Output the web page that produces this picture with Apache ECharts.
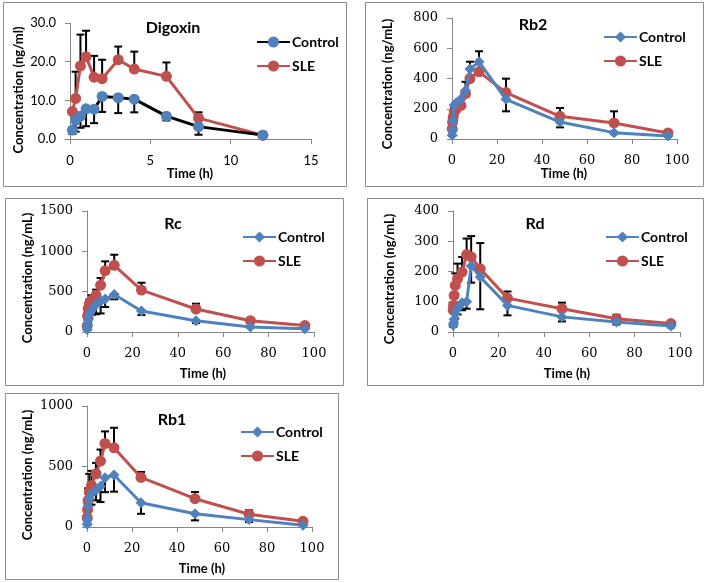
<!DOCTYPE html>
<html><head><meta charset="utf-8">
<script src="https://cdn.jsdelivr.net/npm/echarts@6/dist/echarts.min.js"></script>
<style>html,body{margin:0;padding:0;background:#fff;}#c{width:709px;height:583px;}</style>
</head><body><div id="c"></div>
<script>
// ---------- DATA ----------
const digTimes = [0.15, 0.35, 0.65, 1, 1.5, 2, 3, 4, 6, 8, 12];
const digControl = [2.3, 4.9, 5.9, 7.8, 7.7, 11.0, 10.7, 10.3, 5.9, 3.2, 1.0];
const digControlSD = [1.0, 3.0, 3.0, 4.5, 3.6, 4.0, 4.0, 3.4, 1.1, 2.1, 0];
const digSLE = [7.1, 10.5, 18.9, 21.3, 16.0, 15.6, 20.5, 18.1, 16.2, 5.4, 1.0];
const digSLESD = [0, 6.9, 8.1, 6.7, 5.5, 4.9, 3.4, 4.5, 3.6, 1.5, 0];

const gTimes = [0.083, 0.25, 0.5, 1, 2, 4, 6, 8, 12, 24, 48, 72, 96];

const rb2Control = [25, 60, 120, 225, 240, 265, 320, 462, 510, 262, 112, 42, 20];
const rb2ControlSD = [5, 10, 15, 20, 25, 30, 40, 50, 60, 79, 35, 10, 5];
const rb2SLE = [67, 111, 144, 178, 200, 222, 300, 400, 444, 307, 150, 106, 40];
const rb2SLESD = [10, 15, 20, 25, 30, 35, 78, 111, 136, 92, 55, 77, 10];

const rcControl = [30, 90, 150, 210, 270, 340, 380, 410, 465, 260, 140, 62, 40];
const rcControlSD = [5, 20, 30, 40, 60, 120, 150, 100, 60, 50, 30, 10, 5];
const rcSLE = [80, 200, 290, 350, 395, 455, 580, 760, 826, 520, 285, 140, 80];
const rcSLESD = [20, 30, 40, 50, 60, 70, 89, 116, 132, 91, 66, 20, 10];

const rdControl = [22, 30, 42, 60, 78, 97, 100, 218, 182, 88, 50, 33, 20];
const rdControlSD = [5, 8, 10, 15, 20, 25, 23, 55, 107, 33, 15, 8, 5];
const rdSLE = [72, 88, 121, 154, 176, 198, 256, 248, 209, 112, 77, 44, 28];
const rdSLESD = [5, 10, 30, 40, 50, 50, 53, 69, 85, 22, 20, 13, 8];

const rb1Control = [22, 69, 171, 234, 275, 303, 336, 408, 430, 200, 110, 61, 14];
const rb1ControlSD = [5, 15, 30, 60, 90, 83, 130, 120, 138, 91, 55, 20, 5];
const rb1SLE = [77, 143, 220, 289, 344, 440, 545, 690, 655, 410, 234, 105, 47];
const rb1SLESD = [20, 50, 100, 150, 120, 90, 95, 100, 165, 45, 55, 33, 10];

const panelTitles = ['Digoxin', 'Rb2', 'Rc', 'Rd', 'Rb1'];
const yTitles = ['Concentration (ng/ml)', 'Concentration (ng/mL)', 'Concentration (ng/mL)', 'Concentration (ng/mL)', 'Concentration (ng/mL)'];
const xTitle = 'Time (h)';
const legendNames = ['Control', 'SLE'];

// ---------- LAYOUT ----------
const BLUE = '#4F81BD', RED = '#C0504D', AXIS = '#868686';
const panels = [
  {box:[3,2,343,184], grid:{left:70, top:23, width:241, height:116}, x:[0,15,5], y:[0,30,10], dec:1,
   t:digTimes, c:digControl, cs:digControlSD, s:digSLE, ss:digSLESD, cLine:'#000', cSym:'circle', cSize:11, sSize:11,
   title:[173,28], leg:[251,30], ytitle:[19,90], xt:[190,174], sansTicks:true},
  {box:[365,2,338,184], grid:{left:452, top:18, width:225, height:121}, x:[0,100,20], y:[0,800,200], dec:0,
   t:gTimes, c:rb2Control, cs:rb2ControlSD, s:rb2SLE, ss:rb2SLESD, cLine:BLUE, cSym:'diamond', cSize:11, sSize:11,
   title:[533,25], leg:[598,25], ytitle:[388,84], xt:[564,174]},
  {box:[5,198,338,187], grid:{left:87, top:211, width:227, height:121}, x:[0,100,20], y:[0,1500,500], dec:0,
   t:gTimes, c:rcControl, cs:rcControlSD, s:rcSLE, ss:rcSLESD, cLine:BLUE, cSym:'diamond', cSize:11, sSize:11,
   title:[173,224], leg:[237,225], ytitle:[28,278], xt:[203,374]},
  {box:[367,198,336,187], grid:{left:453, top:211, width:227, height:121}, x:[0,100,20], y:[0,400,100], dec:0,
   t:gTimes, c:rdControl, cs:rdControlSD, s:rdSLE, ss:rdSLESD, cLine:BLUE, cSym:'diamond', cSize:11, sSize:11,
   title:[535,224], leg:[600,225], ytitle:[390,279], xt:[567,374]},
  {box:[5,393,333,186], grid:{left:87, top:406, width:225, height:121}, x:[0,100,20], y:[0,1000,500], dec:0,
   t:gTimes, c:rb1Control, cs:rb1ControlSD, s:rb1SLE, ss:rb1SLESD, cLine:BLUE, cSym:'diamond', cSize:11, sSize:11,
   title:[172,420], leg:[235,420], ytitle:[28,475], xt:[202,569]}
];

const grids = [], xAxes = [], yAxes = [], series = [], legends = [], graphics = [];

function errRender(dir) {
  return function (params, api) {
    const x = api.value(0), y = api.value(1), e = api.value(2);
    if (!(e > 0)) return null;
    const p0 = api.coord([x, y]);
    const p1 = api.coord([x, y + dir * e]);
    const st = {stroke: '#000', lineWidth: 2};
    return {type: 'group', children: [
      {type: 'line', shape: {x1: p0[0], y1: p0[1], x2: p1[0], y2: p1[1]}, style: st},
      {type: 'line', shape: {x1: p1[0] - 4, y1: p1[1], x2: p1[0] + 4, y2: p1[1]}, style: st}
    ]};
  };
}

panels.forEach((p, i) => {
  grids.push(p.grid);
  const tickFont = p.sansTicks ? {fontFamily: 'Lato', fontSize: 13} : {fontFamily: 'DejaVu Serif', fontSize: 13};
  xAxes.push({type: 'value', gridIndex: i, min: p.x[0], max: p.x[1], interval: p.x[2],
    axisLine: {show: true, lineStyle: {color: AXIS, width: 1}}, axisTick: {show: true, length: 5, lineStyle: {color: AXIS}},
    splitLine: {show: false}, axisLabel: Object.assign({color: '#000', margin: 15}, tickFont)});
  yAxes.push({type: 'value', gridIndex: i, min: p.y[0], max: p.y[1], interval: p.y[2],
    axisLine: {show: true, lineStyle: {color: AXIS, width: 1}}, axisTick: {show: true, length: 5, lineStyle: {color: AXIS}},
    splitLine: {show: false},
    axisLabel: Object.assign({color: '#000', margin: 14, formatter: v => v.toFixed(p.dec)}, tickFont)});
  const cName = legendNames[0] + '|' + i, sName = legendNames[1] + '|' + i;
  const cData = p.t.map((t, k) => [t, p.c[k], p.cs[k]]);
  const sData = p.t.map((t, k) => [t, p.s[k], p.ss[k]]);
  series.push({type: 'custom', xAxisIndex: i, yAxisIndex: i, renderItem: errRender(-1), data: cData, z: 1, silent: true});
  series.push({type: 'custom', xAxisIndex: i, yAxisIndex: i, renderItem: errRender(1), data: sData, z: 1, silent: true});
  series.push({name: cName, type: 'line', xAxisIndex: i, yAxisIndex: i, data: cData.map(d => [d[0], d[1]]),
    symbol: p.cSym, symbolSize: p.cSize, showAllSymbol: true,
    lineStyle: {color: p.cLine, width: 3}, itemStyle: {color: BLUE, borderWidth: 0}, z: 3, animation: false});
  series.push({name: sName, type: 'line', xAxisIndex: i, yAxisIndex: i, data: sData.map(d => [d[0], d[1]]),
    symbol: 'circle', symbolSize: p.sSize, showAllSymbol: true,
    lineStyle: {color: RED, width: 3}, itemStyle: {color: RED, borderWidth: 0}, z: 2, animation: false});
  legends.push({data: [cName, sName], left: p.leg[0], top: p.leg[1], orient: 'vertical', itemWidth: 33, itemHeight: 14,
    itemGap: 10, formatter: n => n.split('|')[0], selectedMode: false,
    textStyle: {fontFamily: 'Lato', fontWeight: 'bold', fontSize: 14, color: '#000', padding: [0, 0, 0, -3]}});
  graphics.push({type: 'rect', shape: {x: p.box[0] + 0.5, y: p.box[1] + 0.5, width: p.box[2], height: p.box[3]},
    style: {fill: 'none', stroke: '#8c8c8c', lineWidth: 1}, z: -1});
  graphics.push({type: 'text', x: p.title[0], y: p.title[1], style: {text: panelTitles[i], fontFamily: 'Lato', fontWeight: 'bold',
    fontSize: 16, fill: '#000', align: 'center', verticalAlign: 'middle'}});
  graphics.push({type: 'text', x: p.ytitle[0], y: p.ytitle[1], rotation: Math.PI / 2, style: {text: yTitles[i], fontFamily: 'Lato',
    fontWeight: 'bold', fontSize: 13, fill: '#000', align: 'center', verticalAlign: 'middle'}});
  graphics.push({type: 'text', x: p.xt[0], y: p.xt[1], style: {text: xTitle, fontFamily: 'Lato', fontWeight: 'bold',
    fontSize: 13, fill: '#000', align: 'center', verticalAlign: 'middle'}});
});

const chart = echarts.init(document.getElementById('c'), null, {renderer: 'canvas'});
chart.setOption({
  backgroundColor: '#fff', animation: false,
  grid: grids, xAxis: xAxes, yAxis: yAxes, series: series, legend: legends, graphic: graphics
});
</script></body></html>
